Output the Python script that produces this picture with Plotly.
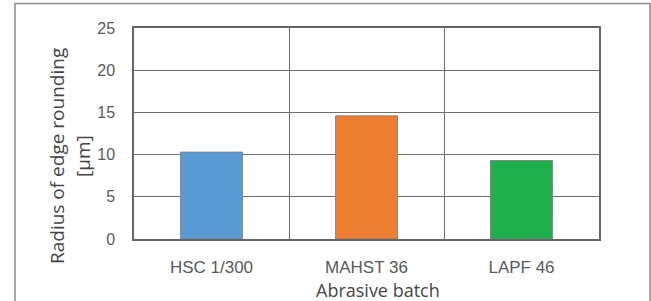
import plotly.graph_objects as go

categories = ["HSC 1/300", "MAHST 36", "LAPF 46"]
values = [10.3, 14.6, 9.3]
colors = ["#5B9BD5", "#ED7D31", "#1FAF4D"]
y_ticks = [0, 5, 10, 15, 20, 25]

W, H = 651, 301
L, R, T, B = 134, 599, 28, 239

def px(x):
    return (x - L) / (R - L)

def py(y):
    return (B - y) / (B - T)

fig = go.Figure()
fig.add_trace(go.Bar(
    x=categories, y=values, width=0.4,
    marker=dict(color=colors, line=dict(color="#7a7a7a", width=0.8)),
    showlegend=False,
))

fig.update_layout(
    width=W, height=H,
    margin=dict(l=L, r=W - R, t=T, b=H - B),
    paper_bgcolor="white", plot_bgcolor="white",
    font=dict(family="Liberation Sans, Arial", color="#595959", size=16),
    xaxis=dict(
        type="category", tickson="boundaries", showgrid=True,
        gridcolor="#6e6e6e", gridwidth=1,
        showline=True, linecolor="#666666", linewidth=1.5, mirror=True,
        ticks="", ticklabelstandoff=12,
        tickfont=dict(size=17, color="#595959"),
        zeroline=False,
    ),
    yaxis=dict(
        range=[0, 25], tickvals=y_ticks, showgrid=True,
        gridcolor="#6e6e6e", gridwidth=1,
        showline=True, linecolor="#666666", linewidth=1.5, mirror=True,
        ticks="", ticklabelstandoff=14,
        tickfont=dict(size=16, color="#595959"),
        zeroline=False,
    ),
    shapes=[dict(
        type="rect", xref="paper", yref="paper",
        x0=px(15), x1=px(650), y0=py(320), y1=py(3.5),
        line=dict(color="#8a8a8a", width=1.5), fillcolor="rgba(0,0,0,0)",
        layer="below",
    )],
    annotations=[
        dict(text="Radius of edge rounding", xref="paper", yref="paper",
             x=px(57), y=py(156), textangle=-90, showarrow=False,
             xanchor="center", yanchor="middle",
             font=dict(family="Open Sans", size=19, color="#454545")),
        dict(text="[µm]", xref="paper", yref="paper",
             x=px(83), y=py(156), textangle=-90, showarrow=False,
             xanchor="center", yanchor="middle",
             font=dict(family="Open Sans", size=19, color="#454545")),
        dict(text="Abrasive batch", xref="paper", yref="paper",
             x=px(378), y=py(290), showarrow=False,
             xanchor="center", yanchor="middle",
             font=dict(family="Open Sans", size=18, color="#454545")),
    ],
)

fig.write_html(
    "out.html",
    config={"displayModeBar": False},
    post_script="document.body.style.margin='0';document.body.style.overflow='hidden';",
)
